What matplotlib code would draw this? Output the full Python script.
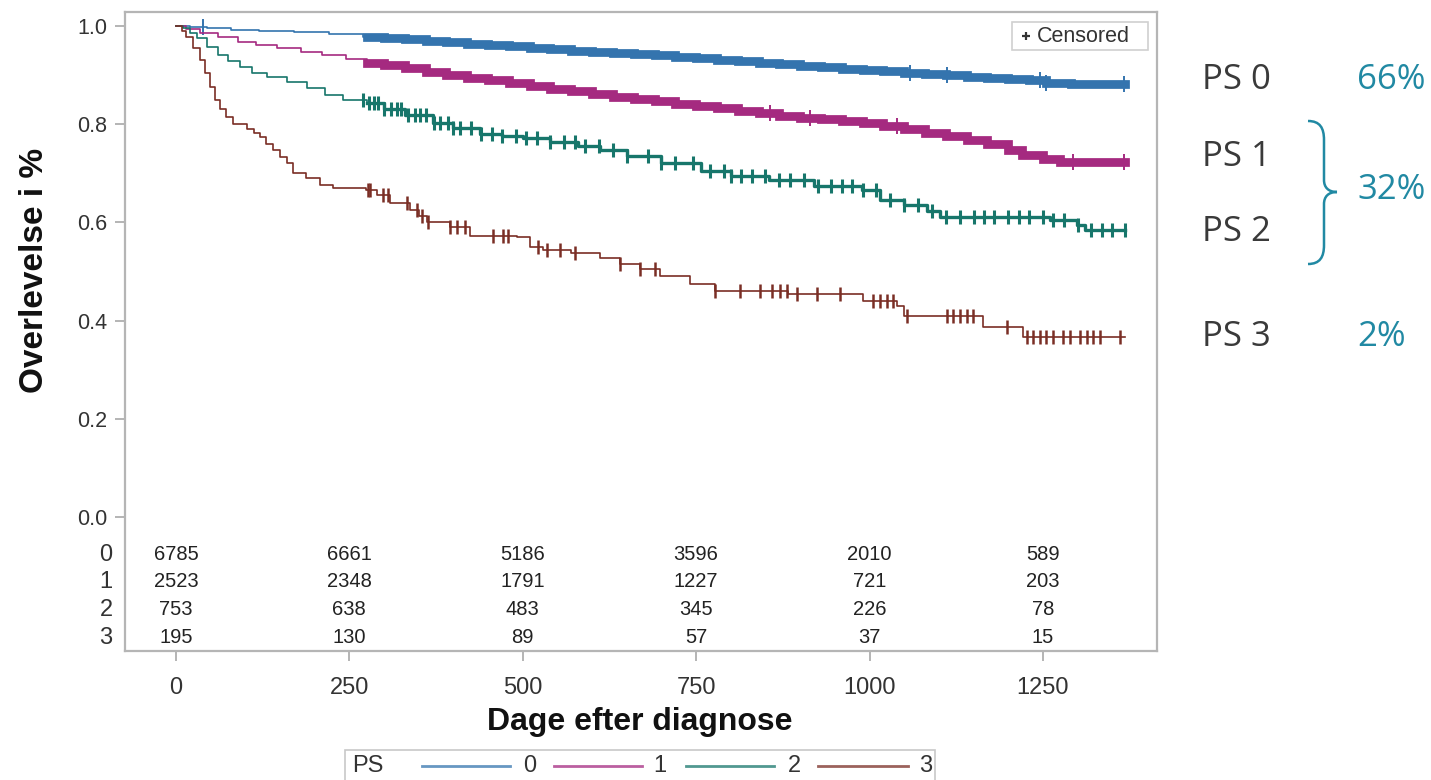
import numpy as np
import matplotlib
matplotlib.use("Agg")
import matplotlib.pyplot as plt
from matplotlib.path import Path
from matplotlib.patches import PathPatch, Rectangle
from matplotlib.lines import Line2D

W, H = 1431, 780

# Kaplan-Meier steps per PS group (days, survival)
t0 = [0, 20, 45, 80, 120, 170, 220, 270, 300, 330, 360, 390, 420, 450, 480, 510, 540,
      570, 600, 630, 660, 690, 720, 750, 780, 810, 840, 870, 900, 930, 960, 990, 1020,
      1050, 1080, 1110, 1140, 1170, 1200, 1230, 1255, 1290, 1368]
s0 = [1.0, 0.998, 0.995, 0.992, 0.99, 0.987, 0.983, 0.978, 0.976, 0.973, 0.97, 0.967,
      0.964, 0.962, 0.959, 0.956, 0.953, 0.95, 0.948, 0.945, 0.943, 0.94, 0.937, 0.934,
      0.931, 0.928, 0.925, 0.922, 0.919, 0.916, 0.913, 0.91, 0.908, 0.905, 0.902, 0.90,
      0.897, 0.895, 0.892, 0.889, 0.884, 0.882, 0.882]
t1 = [0, 15, 35, 60, 90, 115, 145, 180, 210, 245, 275, 300, 330, 360, 390, 420, 450,
      480, 510, 540, 570, 600, 630, 660, 690, 720, 750, 780, 810, 840, 870, 900, 930,
      960, 990, 1020, 1050, 1080, 1110, 1140, 1170, 1200, 1220, 1250, 1275, 1368]
s1 = [1.0, 0.993, 0.986, 0.977, 0.968, 0.962, 0.955, 0.947, 0.94, 0.932, 0.925, 0.92,
      0.914, 0.907, 0.90, 0.894, 0.889, 0.883, 0.877, 0.872, 0.867, 0.861, 0.856, 0.851,
      0.847, 0.842, 0.837, 0.832, 0.827, 0.822, 0.817, 0.813, 0.81, 0.806, 0.802, 0.797,
      0.79, 0.782, 0.775, 0.768, 0.76, 0.748, 0.737, 0.73, 0.724, 0.724]
t2 = [0, 10, 20, 30, 45, 60, 75, 92, 110, 131, 160, 189, 215, 241, 275, 300, 330, 371,
      400, 438, 470, 500, 540, 580, 612, 650, 700, 757, 800, 855, 920, 989, 1015, 1050,
      1083, 1102, 1260, 1299, 1310, 1368]
s2 = [1.0, 0.995, 0.985, 0.975, 0.957, 0.94, 0.928, 0.917, 0.905, 0.896, 0.885, 0.873,
      0.86, 0.849, 0.843, 0.83, 0.818, 0.802, 0.793, 0.78, 0.776, 0.772, 0.763, 0.755,
      0.747, 0.735, 0.72, 0.705, 0.695, 0.686, 0.675, 0.665, 0.645, 0.635, 0.624, 0.61,
      0.605, 0.594, 0.584, 0.584]
t3 = [0, 8, 15, 25, 35, 42, 49, 56, 63, 72, 82, 102, 112, 121, 130, 140, 150, 160, 169,
      188, 207, 226, 274, 290, 309, 337, 350, 362, 395, 424, 491, 510, 529, 570, 611, 640,
      669, 698, 741, 777, 882, 990, 1039, 1049, 1164, 1222, 1368]
s3 = [1.0, 0.99, 0.978, 0.955, 0.93, 0.905, 0.876, 0.85, 0.83, 0.815, 0.80, 0.79, 0.782,
      0.774, 0.76, 0.747, 0.733, 0.72, 0.70, 0.69, 0.676, 0.67, 0.665, 0.655, 0.64, 0.625,
      0.612, 0.60, 0.59, 0.573, 0.57, 0.55, 0.543, 0.537, 0.527, 0.516, 0.506, 0.49, 0.475,
      0.46, 0.455, 0.44, 0.43, 0.41, 0.386, 0.366, 0.366]

# censoring times
c0 = [39, 1058, 1111, 1246, 1255, 1367]
c1 = [856, 914, 1039, 1293, 1367]
c2 = [270, 278, 285, 292, 300, 310, 318, 325, 335, 345, 352, 360, 372, 380, 392, 400,
      410, 425, 440, 455, 470, 490, 505, 520, 540, 560, 575, 590, 610, 630, 650, 680,
      700, 720, 745, 770, 790, 800, 815, 830, 850, 870, 885, 905, 925, 945, 960, 975,
      990, 1010, 1030, 1050, 1070, 1090, 1110, 1130, 1150, 1165, 1180, 1200, 1215, 1230,
      1250, 1265, 1280, 1300, 1320, 1335, 1350, 1368]
c3 = [277, 280, 298, 306, 333, 347, 355, 363, 395, 405, 417, 457, 471, 479, 522, 535,
      554, 575, 640, 669, 690, 777, 813, 842, 859, 871, 881, 895, 924, 957, 1005, 1015,
      1025, 1034, 1054, 1111, 1120, 1130, 1140, 1149, 1198, 1227, 1236, 1246, 1255, 1265,
      1279, 1289, 1303, 1313, 1322, 1332, 1361]

# number at risk
risk_times = [0, 250, 500, 750, 1000, 1250]
risk0 = [6785, 6661, 5186, 3596, 2010, 589]
risk1 = [2523, 2348, 1791, 1227, 721, 203]
risk2 = [753, 638, 483, 345, 226, 78]
risk3 = [195, 130, 89, 57, 37, 15]

groups = ["0", "1", "2", "3"]
colors = ["#3474ae", "#a52a80", "#17766b", "#7a2e25"]
ps_labels = ["PS 0", "PS 1", "PS 2", "PS 3"]
shares = ["66%", "32%", "2%"]

BAND_START = 275


def fx(x):
    return x / W


def fy(y):
    return 1 - y / H


def tail(t, s, start):
    t = np.asarray(t, float)
    s = np.asarray(s, float)
    i = np.searchsorted(t, start, side="right") - 1
    return np.r_[start, t[i + 1:]], s[i:]


def surv_at(t, s, c):
    idx = np.searchsorted(np.asarray(t), np.asarray(c), side="right") - 1
    return np.asarray(s)[idx]


plt.rcParams["font.family"] = ["Liberation Sans", "DejaVu Sans"]
fig = plt.figure(figsize=(W / 100, H / 100), dpi=100)
ax = fig.add_axes([fx(125), fy(651), fx(1157 - 125), (651 - 12) / H])

curves = [(t0, s0, c0), (t1, s1, c1), (t2, s2, c2), (t3, s3, c3)]
for k, (t, s, c) in enumerate(curves):
    col = colors[k]
    ax.step(t, s, where="post", color=col, lw=1.2)
    tt, ss = tail(t, s, BAND_START)
    if k < 2:
        # dense censoring looks like a solid band
        ax.step(tt, ss, where="post", color=col, lw=6.3, solid_joinstyle="miter")
        ax.plot(c, surv_at(t, s, c), ls="none", marker="|", ms=11, mew=1.4, color=col)
    elif k == 2:
        ax.step(tt, ss, where="post", color=col, lw=2.4)
        ax.plot(c, surv_at(t, s, c), ls="none", marker="|", ms=10, mew=2.2, color=col)
    else:
        ax.plot(c, surv_at(t, s, c), ls="none", marker="|", ms=10, mew=1.8, color=col)

ax.set_xlim(-73.5, 1414.5)
ax.set_ylim(-0.273, 1.0285)
ax.set_xticks(risk_times)
ax.set_yticks([0.0, 0.2, 0.4, 0.6, 0.8, 1.0])
ax.set_yticklabels(["0.0", "0.2", "0.4", "0.6", "0.8", "1.0"])
ax.tick_params(axis="x", labelsize=17, length=7, width=1.2, color="#a8a8a8",
               labelcolor="#333333", pad=12)
ax.tick_params(axis="y", labelsize=15.5, length=7, width=1.2, color="#a8a8a8",
               labelcolor="#333333", pad=6)
for sp in ax.spines.values():
    sp.set_color("#b5b5b5")
    sp.set_linewidth(1.6)

# at-risk table inside the axes
risk_rows = [risk0, risk1, risk2, risk3]
row_y = [-0.0774, -0.1324, -0.1894, -0.2464]
for g, vals, yy in zip(groups, risk_rows, row_y):
    for tx, v in zip(risk_times, vals):
        ax.text(tx, yy, str(v), ha="center", va="center", fontsize=14.5, color="#222222")
    ax.text(-0.012, yy, g, transform=ax.get_yaxis_transform(), ha="right", va="center",
            fontsize=17, color="#333333")

fig.text(fx(640), fy(722), "Dage efter diagnose", ha="center", va="center",
         fontsize=23, fontweight="bold", color="#111111")
fig.text(fx(35), fy(270), "Overlevelse i %", ha="center", va="center", rotation=90,
         fontsize=24, fontweight="bold", color="#111111")

# censored legend box
fig.patches.append(Rectangle((fx(1012), fy(50)), fx(1148 - 1012), (50 - 22) / H,
                             transform=fig.transFigure, fill=False, ec="#d0d0d0", lw=1.2))
fig.add_artist(Line2D([fx(1026)], [fy(36)], marker="+", ms=5.5, mew=1.6, color="#333333",
                      transform=fig.transFigure))
fig.text(fx(1037), fy(36), "Censored", ha="left", va="center", fontsize=15.5, color="#333333")

# bottom legend
fig.patches.append(Rectangle((fx(345), fy(800)), fx(935 - 345), (800 - 750) / H,
                             transform=fig.transFigure, fill=False, ec="#c8c8c8", lw=1.2))
fig.text(fx(352), fy(766), "PS", ha="left", va="center", fontsize=17, color="#333333")
leg_x = [(422, 510, 530), (554, 642, 660), (686, 774, 794), (818, 908, 926)]
for k, (a, b, lx) in enumerate(leg_x):
    fig.add_artist(Line2D([fx(a), fx(b)], [fy(766), fy(766)], color=colors[k], lw=2,
                          alpha=0.75, transform=fig.transFigure))
    fig.text(fx(lx), fy(766), groups[k], ha="center", va="center", fontsize=17,
             color="#333333")

# right-hand annotations
ann_font = ["Open Sans", "DejaVu Sans"]
for lab, yy in zip(ps_labels, [80, 157, 232, 337]):
    fig.text(fx(1202), fy(yy), lab, ha="left", va="center", fontsize=25,
             color="#3a3a3a", family=ann_font)
for sh, yy in zip(shares, [80, 190, 337]):
    fig.text(fx(1357), fy(yy), sh, ha="left", va="center", fontsize=25,
             color="#2189a3", family=ann_font)

pts = [(1308, 121), (1320, 121), (1324, 128), (1324, 140), (1324, 180),
       (1324, 187), (1328, 192), (1337, 192), (1328, 192), (1324, 197), (1324, 204),
       (1324, 245), (1324, 257), (1320, 264), (1308, 264)]
codes = [Path.MOVETO, Path.CURVE4, Path.CURVE4, Path.CURVE4, Path.LINETO,
         Path.CURVE4, Path.CURVE4, Path.CURVE4, Path.CURVE4, Path.CURVE4, Path.CURVE4,
         Path.LINETO, Path.CURVE4, Path.CURVE4, Path.CURVE4]
brace = Path([(fx(x), fy(y)) for x, y in pts], codes)
fig.patches.append(PathPatch(brace, transform=fig.transFigure, fill=False,
                             ec="#2189a3", lw=1.8))

fig.savefig("out.png", dpi=100)
